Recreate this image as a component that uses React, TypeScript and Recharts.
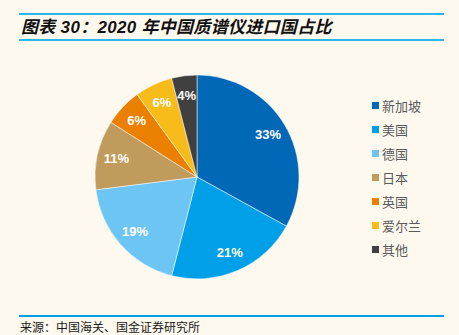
import React from 'react';
import { PieChart, Pie, Cell, Legend } from 'recharts';

const countries = ['新加坡', '美国', '德国', '日本', '英国', '爱尔兰', '其他'];
const shares = [33, 21, 19, 11, 6, 6, 4];
const COLORS = ['#0068B7', '#00A0E9', '#6DC5F4', '#C19B5C', '#EB7F00', '#F7BC19', '#404040'];

const data = countries.map((name, i) => ({ name, value: shares[i] }));

const BG = '#FEF9EF';
const RADIAN = Math.PI / 180;

const renderLabel = (props: any) => {
  const { cx, cy, midAngle, outerRadius, value } = props;
  const r = outerRadius * 0.81;
  const x = cx + r * Math.cos(-midAngle * RADIAN);
  const y = cy + r * Math.sin(-midAngle * RADIAN);
  return (
    <text
      x={x}
      y={y}
      fill="#fff"
      textAnchor="middle"
      dominantBaseline="central"
      fontSize={13}
      fontWeight="bold"
      fontFamily="'Liberation Sans', Arial, sans-serif"
    >
      {`${value}%`}
    </text>
  );
};

const renderLegend = (props: any) => {
  const payload = [...(props.payload || [])].sort(
    (a: any, b: any) => countries.indexOf(a.value) - countries.indexOf(b.value)
  );
  return (
    <div>
      {payload.map((entry: any, i: number) => (
        <div
          key={`leg-${i}`}
          style={{ display: 'flex', alignItems: 'center', height: 24 }}
        >
          <span
            style={{
              display: 'inline-block',
              width: 7,
              height: 7,
              background: entry.color,
              marginRight: 3,
            }}
          />
          <span style={{ fontSize: 13, color: '#5a5a5a' }}>{entry.value}</span>
        </div>
      ))}
    </div>
  );
};

export default function App() {
  return (
    <div
      style={{
        position: 'relative',
        width: 459,
        height: 335,
        background: BG,
        fontFamily: "'Noto Sans CJK SC', sans-serif",
        overflow: 'hidden',
      }}
    >
      <style>{'body{margin:0;}'}</style>
      <div style={{ position: 'absolute', left: 19, top: 13, width: 425, height: 2, background: '#2CB5EC' }} />
      <div
        style={{
          position: 'absolute',
          left: 21,
          top: 15,
          height: 25,
          lineHeight: '25px',
          fontSize: 17,
          fontWeight: 'bold',
          fontStyle: 'italic',
          color: '#111',
          letterSpacing: 0.3,
          fontFamily: "'Liberation Sans', 'Noto Sans CJK SC', sans-serif",
        }}
      >
        图表 30：2020 年中国质谱仪进口国占比
      </div>
      <div style={{ position: 'absolute', left: 19, top: 39, width: 425, height: 2, background: '#2CB5EC' }} />

      <div style={{ position: 'absolute', left: 0, top: 0 }}>
        <PieChart width={459} height={335}>
          <Pie
            data={data}
            dataKey="value"
            nameKey="name"
            cx={192}
            cy={172}
            outerRadius={102}
            startAngle={90}
            endAngle={-270}
            stroke="#ffffff"
            strokeWidth={0.5}
            label={renderLabel}
            labelLine={false}
            isAnimationActive={false}
          >
            {data.map((entry, index) => (
              <Cell key={`cell-${index}`} fill={COLORS[index]} />
            ))}
          </Pie>
          <Legend
            layout="vertical"
            itemSorter={null as any}
            content={renderLegend}
            wrapperStyle={{ left: 372, top: 93, width: 90 }}
          />
        </PieChart>
      </div>

      <div style={{ position: 'absolute', left: 19, top: 315, width: 425, height: 2, background: '#00A0E9' }} />
      <div
        style={{
          position: 'absolute',
          left: 20,
          top: 318,
          fontSize: 12,
          lineHeight: '17px',
          color: '#1a1a1a',
        }}
      >
        来源：中国海关、国金证券研究所
      </div>
    </div>
  );
}
